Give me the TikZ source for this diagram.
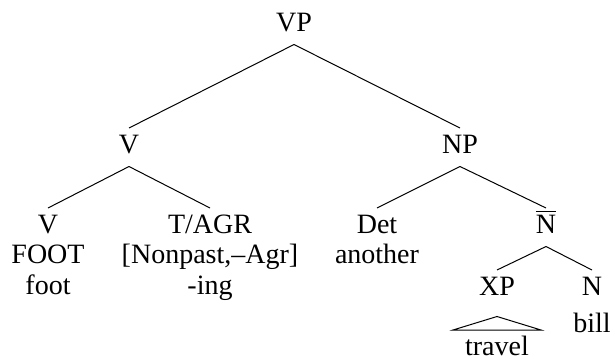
\documentclass[tikz,border=0pt]{standalone}
\usepackage{fontspec}
\setmainfont{Liberation Serif}
\usetikzlibrary{positioning}

\begin{document}
\begin{tikzpicture}[x=0.4pt,y=-0.4pt,node distance=12.2pt,on grid,
    cat/.style={inner sep=0pt,text height=9.8pt,text depth=5.2pt,font=\fontsize{11.2}{12.2}\selectfont}]
    \useasboundingbox (0,0) rectangle (612,360);
    \node[cat,anchor=base] (vp) at (294,31) {VP};
    \node[cat,anchor=base] (v_1) at (129,153) {V};
    \node[cat,anchor=base] (np) at (460,153) {NP};
    \node[cat,anchor=base] (v_2) at (48,233) {V};
    \node[cat,anchor=base] (t_agr) at (210,233) {T/AGR};
    \node[cat,anchor=base] (det) at (377,233) {Det};
    \node[cat,anchor=base] (n_bar) at (546,233) {$\overline{\mbox{N}}$};
    \node[cat,anchor=base] (xp) at (497,295) {XP};
    \node[cat,anchor=base] (n) at (592,295) {N};
    \node[cat](foot_1) [below=of v_2] {FOOT};
    \node[cat](foot_2) [below=of foot_1] {foot};
    \node[cat](nonpast) [below=of t_agr] {[Nonpast,–Agr]};
    \node[cat](ing) [below=of nonpast] {-ing};
    \node[cat](another) [below=of det] {another};
    \node[cat](bill) [below=14.8pt of n] {bill};
    \node[cat](travel) [below=24pt of xp] {travel};
    \path
    (vp.south) edge (v_1.north)
    (vp.south) edge (np.north)
    (v_1.south) edge (v_2.north)
    (v_1.south) edge (t_agr.north)
    (np.south) edge (det.north)
    (np.south) edge (n_bar.north)
    (n_bar.south) edge (xp.north)
    (n_bar.south) edge (n.north);
    \draw ([yshift=-3.2pt]xp.south) -- ([xshift=-17.6pt]travel.north)
        -- ([xshift=17.6pt]travel.north) -- cycle;
\end{tikzpicture}
\end{document}
